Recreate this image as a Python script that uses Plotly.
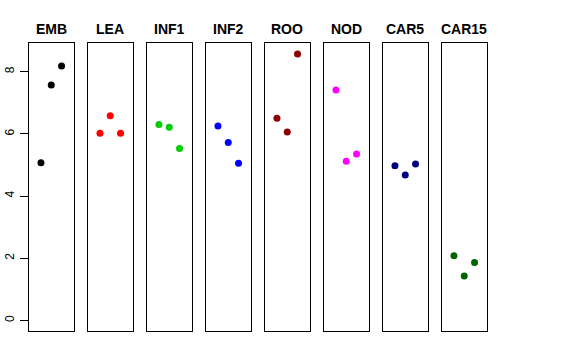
import plotly.graph_objects as go

tissues = ["EMB", "LEA", "INF1", "INF2", "ROO", "NOD", "CAR5", "CAR15"]
x_reps = [1, 2, 3]
values = {
    "EMB":   [5.07, 7.57, 8.18],
    "LEA":   [6.02, 6.58, 6.02],
    "INF1":  [6.30, 6.21, 5.53],
    "INF2":  [6.25, 5.72, 5.05],
    "ROO":   [6.50, 6.06, 8.57],
    "NOD":   [7.41, 5.12, 5.35],
    "CAR5":  [4.97, 4.68, 5.03],
    "CAR15": [2.08, 1.43, 1.86],
}
colors = ["#000000", "#FF0000", "#00CD00", "#0000FF", "#8B0000", "#FF00FF", "#000080", "#006400"]
y_ticks = [0, 2, 4, 6, 8]

W, H = 576, 360
left0, pitch, pw = 29.0, 59.0, 44.5
top_px, bot_px = 43.0, 330.7

fig = go.Figure()
layout = dict(
    width=W, height=H, margin=dict(l=0, r=0, t=0, b=0, pad=0), autosize=False,
    paper_bgcolor="white", plot_bgcolor="white", showlegend=False,
    font=dict(family="Liberation Sans, Arial, sans-serif", color="black"),
)
annotations = []
for i, t in enumerate(tissues):
    n = "" if i == 0 else str(i + 1)
    x0 = (left0 + pitch * i) / W
    x1 = (left0 + pitch * i + pw) / W
    fig.add_trace(go.Scatter(
        x=x_reps, y=values[t], mode="markers",
        marker=dict(color=colors[i], size=7),
        xaxis="x" + n, yaxis="y" + n, hoverinfo="x+y",
    ))
    layout["xaxis" + n] = dict(
        domain=[x0, x1], range=[-0.16, 4.16], showgrid=False, zeroline=False,
        showticklabels=False, ticks="", showline=True, linecolor="black",
        linewidth=1, mirror=True, anchor="y" + n, fixedrange=True,
        automargin=False,
    )
    yax = dict(
        domain=[(H - bot_px) / H, (H - top_px) / H], range=[-0.33, 8.92],
        showgrid=False, zeroline=False, showline=True, linecolor="black",
        linewidth=1, mirror=True, anchor="x" + n, fixedrange=True,
        automargin=False,
    )
    if i == 0:
        yax.update(tickvals=y_ticks, ticktext=[str(v) for v in y_ticks],
                   ticks="outside", ticklen=8, tickcolor="black", tickangle=-90,
                   tickfont=dict(size=12), ticklabelstandoff=1)
    else:
        yax.update(showticklabels=False, ticks="")
    layout["yaxis" + n] = yax
    annotations.append(dict(
        text="<b>%s</b>" % t, x=(x0 + x1) / 2, y=(H - 29) / H,
        xref="paper", yref="paper", showarrow=False,
        font=dict(size=14, family="Liberation Sans, Arial, sans-serif"),
        xanchor="center", yanchor="middle",
    ))
layout["annotations"] = annotations
fig.update_layout(**layout)
fig.write_html("out.html", config={"displayModeBar": False},
               post_script="document.body.style.margin='0';document.body.style.padding='0';")
